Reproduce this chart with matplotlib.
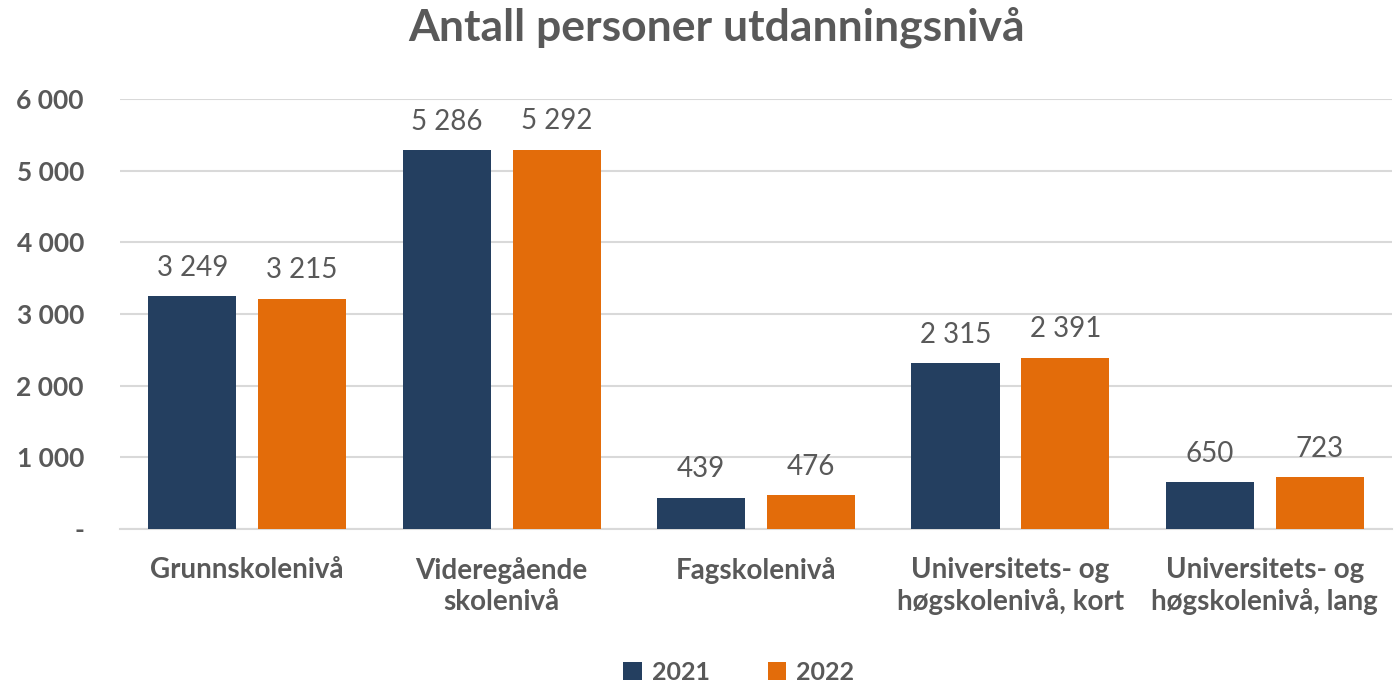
import matplotlib.pyplot as plt
import numpy as np
from matplotlib.ticker import FuncFormatter

plt.rcParams['font.family'] = ['Lato', 'DejaVu Sans']

# Data
categories = ['Grunnskolenivå', 'Videregående\nskolenivå', 'Fagskolenivå',
              'Universitets- og\nhøgskolenivå, kort', 'Universitets- og\nhøgskolenivå, lang']
years = ['2021', '2022']
values_2021 = [3249, 5286, 439, 2315, 650]
values_2022 = [3215, 5292, 476, 2391, 723]

colors = ['#243F60', '#E36C0A']
text_color = '#595959'
grid_color = '#D9D9D9'


def fmt(v):
    return f'{int(v):,}'.replace(',', ' ')


fig = plt.figure(figsize=(13.94, 6.89), dpi=100)
ax = fig.add_axes([0.0861, 0.2322, 0.9125, 0.6241])

x = np.arange(len(categories))
width = 0.346
offset = 0.216

for vals, off, col, lab in [(values_2021, -offset, colors[0], years[0]),
                            (values_2022, offset, colors[1], years[1])]:
    bars = ax.bar(x + off, vals, width, color=col, label=lab, zorder=3)
    for b, v in zip(bars, vals):
        ax.annotate(fmt(v), (b.get_x() + b.get_width() / 2, v),
                    xytext=(0, 11), textcoords='offset points',
                    ha='center', va='bottom', fontsize=20, color=text_color)

ax.set_xlim(-0.5, len(categories) - 0.5)
ax.set_ylim(0, 6000)
ax.set_yticks(np.arange(0, 6001, 1000))
ax.yaxis.set_major_formatter(FuncFormatter(lambda v, p: '-' if v == 0 else fmt(v)))
ax.grid(axis='y', color=grid_color, linewidth=1.5, zorder=0)

for s in ['top', 'right', 'left']:
    ax.spines[s].set_visible(False)
ax.spines['bottom'].set_color(grid_color)
ax.spines['bottom'].set_linewidth(1.5)

ax.tick_params(axis='y', length=0, pad=26, labelsize=19, labelcolor=text_color)
ax.tick_params(axis='x', length=0, pad=20, labelsize=20, labelcolor=text_color)
ax.set_xticks(x)
ax.set_xticklabels(categories, fontweight='bold', linespacing=1.25)
for t in ax.get_yticklabels():
    t.set_fontweight('bold')

fig.suptitle('Antall personer utdanningsnivå', x=0.514, y=0.99, fontsize=32,
             fontweight='bold', color=text_color)

leg = fig.legend(loc='lower center', bbox_to_anchor=(0.53, -0.025), ncol=2, frameon=False,
                 prop={'size': 18, 'weight': 'bold'}, handlelength=0.75, handleheight=0.75,
                 handletextpad=0.4, columnspacing=2.3)
for t in leg.get_texts():
    t.set_color(text_color)

fig.savefig('out.png', dpi=100)
